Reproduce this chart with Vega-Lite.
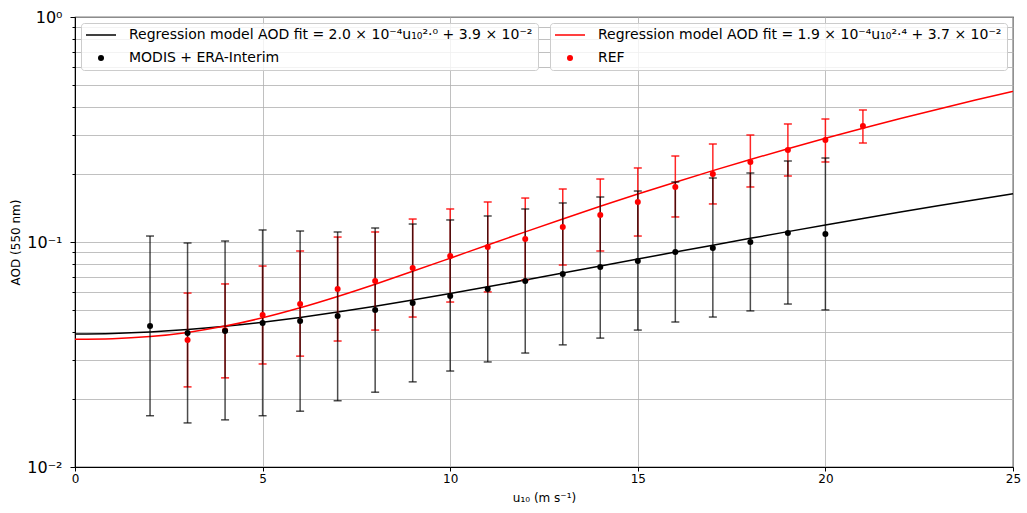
{
  "$schema": "https://vega.github.io/schema/vega-lite/v6.json",
  "width": 938,
  "height": 450,
  "autosize": {"type": "none"},
  "padding": {"left": 75, "top": 17, "right": 14, "bottom": 46},
  "config": {
    "font": "DejaVu Sans",
    "view": {"stroke": "black", "strokeWidth": 1.2},
    "axis": {"domainColor": "black", "tickColor": "black", "gridColor": "#b0b0b0", "gridWidth": 0.8, "labelColor": "black", "titleColor": "black", "titleFontWeight": "normal", "labelFont": "DejaVu Sans", "titleFont": "DejaVu Sans"},
    "legend": {"labelFont": "DejaVu Sans", "labelColor": "black"}
  },
  "datasets": {
    "fitA": [
      {"u": 0, "aod": 0.039}, {"u": 1, "aod": 0.0392}, {"u": 2, "aod": 0.0398}, {"u": 3, "aod": 0.0408}, {"u": 4, "aod": 0.0422}, {"u": 5, "aod": 0.044}, {"u": 6, "aod": 0.0462}, {"u": 7, "aod": 0.0488}, {"u": 8, "aod": 0.0518}, {"u": 9, "aod": 0.0552}, {"u": 10, "aod": 0.059}, {"u": 11, "aod": 0.0632}, {"u": 12, "aod": 0.0678}, {"u": 13, "aod": 0.0728}, {"u": 14, "aod": 0.0782}, {"u": 15, "aod": 0.084}, {"u": 16, "aod": 0.0902}, {"u": 17, "aod": 0.0968}, {"u": 18, "aod": 0.1038}, {"u": 19, "aod": 0.1112}, {"u": 20, "aod": 0.119}, {"u": 21, "aod": 0.1272}, {"u": 22, "aod": 0.1358}, {"u": 23, "aod": 0.1448}, {"u": 24, "aod": 0.1542}, {"u": 25, "aod": 0.164}
    ],
    "fitB": [
      {"u": 0, "aod": 0.037}, {"u": 1, "aod": 0.03719}, {"u": 2, "aod": 0.038}, {"u": 3, "aod": 0.03965}, {"u": 4, "aod": 0.04229}, {"u": 5, "aod": 0.04604}, {"u": 6, "aod": 0.05101}, {"u": 7, "aod": 0.05728}, {"u": 8, "aod": 0.06494}, {"u": 9, "aod": 0.07407}, {"u": 10, "aod": 0.08473}, {"u": 11, "aod": 0.09702}, {"u": 12, "aod": 0.11095}, {"u": 13, "aod": 0.1266}, {"u": 14, "aod": 0.14405}, {"u": 15, "aod": 0.16333}, {"u": 16, "aod": 0.18444}, {"u": 17, "aod": 0.20754}, {"u": 18, "aod": 0.23264}, {"u": 19, "aod": 0.25974}, {"u": 20, "aod": 0.28894}, {"u": 21, "aod": 0.3202}, {"u": 22, "aod": 0.35365}, {"u": 23, "aod": 0.3893}, {"u": 24, "aod": 0.42724}, {"u": 25, "aod": 0.46716}
    ],
    "modis": [
      {"u": 2, "aod": 0.0423, "lo": 0.0169, "hi": 0.1063, "key": "MODIS + ERA-Interim"},
      {"u": 3, "aod": 0.0394, "lo": 0.0157, "hi": 0.099, "key": "MODIS + ERA-Interim"},
      {"u": 4, "aod": 0.0402, "lo": 0.0162, "hi": 0.101, "key": "MODIS + ERA-Interim"},
      {"u": 5, "aod": 0.0437, "lo": 0.0169, "hi": 0.1131, "key": "MODIS + ERA-Interim"},
      {"u": 6, "aod": 0.0446, "lo": 0.0177, "hi": 0.1119, "key": "MODIS + ERA-Interim"},
      {"u": 7, "aod": 0.0469, "lo": 0.0197, "hi": 0.1108, "key": "MODIS + ERA-Interim"},
      {"u": 8, "aod": 0.0499, "lo": 0.0215, "hi": 0.1154, "key": "MODIS + ERA-Interim"},
      {"u": 9, "aod": 0.0536, "lo": 0.0239, "hi": 0.1202, "key": "MODIS + ERA-Interim"},
      {"u": 10, "aod": 0.0575, "lo": 0.0267, "hi": 0.1253, "key": "MODIS + ERA-Interim"},
      {"u": 11, "aod": 0.0618, "lo": 0.0293, "hi": 0.1305, "key": "MODIS + ERA-Interim"},
      {"u": 12, "aod": 0.0671, "lo": 0.0321, "hi": 0.1402, "key": "MODIS + ERA-Interim"},
      {"u": 13, "aod": 0.0721, "lo": 0.0349, "hi": 0.1491, "key": "MODIS + ERA-Interim"},
      {"u": 14, "aod": 0.0774, "lo": 0.0374, "hi": 0.1585, "key": "MODIS + ERA-Interim"},
      {"u": 15, "aod": 0.0823, "lo": 0.0406, "hi": 0.1685, "key": "MODIS + ERA-Interim"},
      {"u": 16, "aod": 0.0903, "lo": 0.0441, "hi": 0.1848, "key": "MODIS + ERA-Interim"},
      {"u": 17, "aod": 0.094, "lo": 0.0464, "hi": 0.1925, "key": "MODIS + ERA-Interim"},
      {"u": 18, "aod": 0.1, "lo": 0.0494, "hi": 0.2026, "key": "MODIS + ERA-Interim"},
      {"u": 19, "aod": 0.1096, "lo": 0.053, "hi": 0.2291, "key": "MODIS + ERA-Interim"},
      {"u": 20, "aod": 0.1085, "lo": 0.0499, "hi": 0.2362, "key": "MODIS + ERA-Interim"}
    ],
    "ref": [
      {"u": 3, "aod": 0.0367, "lo": 0.0227, "hi": 0.0593, "key": "REF"},
      {"u": 4, "aod": 0.0405, "lo": 0.0249, "hi": 0.0651, "key": "REF"},
      {"u": 5, "aod": 0.0474, "lo": 0.0287, "hi": 0.0782, "key": "REF"},
      {"u": 6, "aod": 0.053, "lo": 0.0311, "hi": 0.0912, "key": "REF"},
      {"u": 7, "aod": 0.0618, "lo": 0.0363, "hi": 0.1052, "key": "REF"},
      {"u": 8, "aod": 0.0671, "lo": 0.0406, "hi": 0.1108, "key": "REF"},
      {"u": 9, "aod": 0.0766, "lo": 0.0464, "hi": 0.1265, "key": "REF"},
      {"u": 10, "aod": 0.0867, "lo": 0.0541, "hi": 0.1402, "key": "REF"},
      {"u": 11, "aod": 0.095, "lo": 0.06, "hi": 0.1506, "key": "REF"},
      {"u": 12, "aod": 0.1031, "lo": 0.0678, "hi": 0.1568, "key": "REF"},
      {"u": 13, "aod": 0.1166, "lo": 0.079, "hi": 0.172, "key": "REF"},
      {"u": 14, "aod": 0.1318, "lo": 0.0912, "hi": 0.1905, "key": "REF"},
      {"u": 15, "aod": 0.1506, "lo": 0.1063, "hi": 0.2133, "key": "REF"},
      {"u": 16, "aod": 0.1756, "lo": 0.1292, "hi": 0.2411, "key": "REF"},
      {"u": 17, "aod": 0.2006, "lo": 0.1476, "hi": 0.2726, "key": "REF"},
      {"u": 18, "aod": 0.2268, "lo": 0.1756, "hi": 0.2989, "key": "REF"},
      {"u": 19, "aod": 0.2564, "lo": 0.1965, "hi": 0.3346, "key": "REF"},
      {"u": 20, "aod": 0.284, "lo": 0.2268, "hi": 0.3521, "key": "REF"},
      {"u": 21, "aod": 0.3279, "lo": 0.2754, "hi": 0.3861, "key": "REF"}
    ]
  },
  "layer": [
    {
      "data": {"name": "fitA"},
      "mark": {"type": "line", "color": "black", "strokeWidth": 1.5, "interpolate": "monotone"},
      "encoding": {
        "x": {"field": "u", "type": "quantitative", "scale": {"domain": [0, 25], "nice": false}, "title": "u₁₀ (m s⁻¹)",
          "axis": {"values": [0, 5, 10, 15, 20, 25], "labelFontSize": 12, "tickSize": 4, "labelPadding": 2, "titleFontSize": 12, "titlePadding": 8, "labelFlush": false, "grid": true}},
        "y": {"field": "aod", "type": "quantitative", "scale": {"type": "log", "domain": [0.01, 1], "nice": false}, "title": "AOD (550 nm)",
          "axis": {"values": [0.01, 0.02, 0.03, 0.04, 0.05, 0.06, 0.07, 0.08, 0.09, 0.1, 0.2, 0.3, 0.4, 0.5, 0.6, 0.7, 0.8, 0.9, 1],
            "labelExpr": "datum.value == 1 ? '10⁰' : datum.value == 0.1 ? '10⁻¹' : datum.value == 0.01 ? '10⁻²' : ''",
            "tickSize": {"condition": {"test": "datum.value == 1 || datum.value == 0.1 || datum.value == 0.01", "value": 5}, "value": 3},
            "labelFontSize": 16, "labelPadding": 8, "labelFlush": false, "labelOverlap": false, "titleFontSize": 12, "titlePadding": 4, "grid": true}}
      }
    },
    {
      "data": {"name": "fitB"},
      "mark": {"type": "line", "color": "red", "strokeWidth": 1.5, "interpolate": "monotone"},
      "encoding": {
        "x": {"field": "u", "type": "quantitative", "scale": {"domain": [0, 25], "nice": false}, "title": "u₁₀ (m s⁻¹)"},
        "y": {"field": "aod", "type": "quantitative", "scale": {"type": "log", "domain": [0.01, 1], "nice": false}, "title": "AOD (550 nm)"}
      }
    },
    {
      "data": {"name": "ref"},
      "mark": {"type": "errorbar", "ticks": true, "color": "red", "size": 8, "thickness": 1.5, "opacity": 0.85},
      "encoding": {
        "x": {"field": "u", "type": "quantitative", "scale": {"domain": [0, 25], "nice": false}, "title": "u₁₀ (m s⁻¹)"},
        "y": {"field": "lo", "type": "quantitative", "scale": {"type": "log", "domain": [0.01, 1], "nice": false}, "title": "AOD (550 nm)"},
        "y2": {"field": "hi"}
      }
    },
    {
      "data": {"name": "modis"},
      "mark": {"type": "errorbar", "ticks": true, "color": "black", "size": 8, "thickness": 1.5, "opacity": 0.7},
      "encoding": {
        "x": {"field": "u", "type": "quantitative", "scale": {"domain": [0, 25], "nice": false}, "title": "u₁₀ (m s⁻¹)"},
        "y": {"field": "lo", "type": "quantitative", "scale": {"type": "log", "domain": [0.01, 1], "nice": false}, "title": "AOD (550 nm)"},
        "y2": {"field": "hi"}
      }
    },
    {
      "data": {"name": "ref"},
      "mark": {"type": "point", "filled": true, "size": 36, "color": "red", "opacity": 1},
      "encoding": {
        "x": {"field": "u", "type": "quantitative", "scale": {"domain": [0, 25], "nice": false}, "title": "u₁₀ (m s⁻¹)"},
        "y": {"field": "aod", "type": "quantitative", "scale": {"type": "log", "domain": [0.01, 1], "nice": false}, "title": "AOD (550 nm)"},
        "shape": {"field": "key", "type": "nominal",
          "scale": {"domain": ["Regression model AOD fit = 1.9 × 10⁻⁴u₁₀²·⁴ + 3.7 × 10⁻²", "REF"], "range": ["M-5,-0.25H5V0.25H-5Z", "circle"]},
          "legend": {"title": null, "orient": "top-right", "offset": 6, "padding": 5, "fillColor": "rgba(255,255,255,0.8)", "strokeColor": "#cccccc", "cornerRadius": 3, "symbolSize": 36, "symbolOffset": 8, "labelOffset": 21, "labelFontSize": 14, "labelLimit": 0, "rowPadding": 9,
            "encode": {"symbols": {"update": {"fill": {"value": "red"}, "stroke": {"value": "red"}, "strokeWidth": {"value": 0.5}, "opacity": {"value": 1}}}}}
        }
      }
    },
    {
      "data": {"name": "modis"},
      "mark": {"type": "point", "filled": true, "size": 36, "color": "black", "opacity": 1},
      "encoding": {
        "x": {"field": "u", "type": "quantitative", "scale": {"domain": [0, 25], "nice": false}, "title": "u₁₀ (m s⁻¹)"},
        "y": {"field": "aod", "type": "quantitative", "scale": {"type": "log", "domain": [0.01, 1], "nice": false}, "title": "AOD (550 nm)"},
        "shape": {"field": "key", "type": "nominal",
          "scale": {"domain": ["Regression model AOD fit = 2.0 × 10⁻⁴u₁₀²·⁰ + 3.9 × 10⁻²", "MODIS + ERA-Interim"], "range": ["M-5,-0.25H5V0.25H-5Z", "circle"]},
          "legend": {"title": null, "orient": "top-left", "offset": 6, "padding": 5, "fillColor": "rgba(255,255,255,0.8)", "strokeColor": "#cccccc", "cornerRadius": 3, "symbolSize": 36, "symbolOffset": 8, "labelOffset": 21, "labelFontSize": 14, "labelLimit": 0, "rowPadding": 9,
            "encode": {"symbols": {"update": {"fill": {"value": "black"}, "stroke": {"value": "black"}, "strokeWidth": {"value": 0.5}, "opacity": {"value": 1}}}}}
        }
      }
    }
  ],
  "resolve": {"scale": {"shape": "independent"}}
}
